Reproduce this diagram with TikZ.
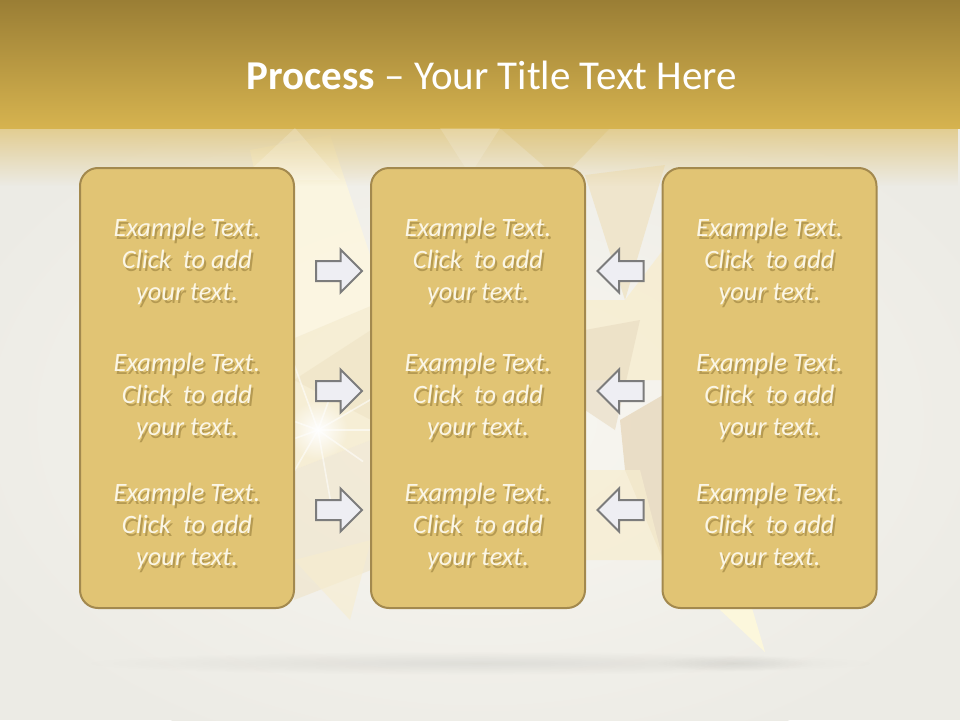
\documentclass[tikz,border=0pt]{standalone}
\usepackage{fontspec}
\setmainfont{Carlito}
\usetikzlibrary{shapes.arrows,fadings}
\tikzfading[name=softedge, inner color=transparent!0, outer color=transparent!100]
\tikzfading[name=fadedown, top color=transparent!0, bottom color=transparent!100]
\definecolor{hdtop}{HTML}{9A7E35}
\definecolor{hdbot}{HTML}{D6B34F}
\definecolor{hdfade}{HTML}{E2CC8E}
\definecolor{bg}{HTML}{ECEBE5}
\definecolor{bglight}{HTML}{F9F7F1}
\definecolor{boxfill}{HTML}{E1C474}
\definecolor{boxline}{HTML}{A3894E}
\definecolor{arrfill}{HTML}{EEEEF3}
\definecolor{arrline}{HTML}{7C7C7C}
\definecolor{txt}{HTML}{FBF6E6}
\definecolor{txtshadow}{HTML}{B59A52}
\definecolor{fa}{HTML}{FCF6E0}
\definecolor{fb}{HTML}{EFE3C5}
\definecolor{fc}{HTML}{E8DAC0}
\definecolor{fd}{HTML}{F7EDCF}
\definecolor{fy}{HTML}{FCF7DC}
\newcommand\shline[1]{\makebox[0pt][l]{\hspace{2pt}\raisebox{-3pt}{\textcolor{txtshadow}{#1}}}#1}
\tikzset{
  panel/.style={draw=boxline, line width=2pt, fill=boxfill, rounded corners=18pt,
    minimum width=214pt, minimum height=440pt, inner sep=0pt},
  ptext/.style={font=\itshape\fontsize{26.5}{32}\selectfont, text=txt, align=center},
  blockarrow/.style={single arrow, draw=arrline, line width=2pt, fill=arrfill,
    minimum height=46pt, minimum width=41pt, inner sep=9pt,
    single arrow head extend=11.5pt}
}
\begin{document}
\begin{tikzpicture}[x=1pt,y=-1pt]
\useasboundingbox (0,0) rectangle (960,720);
% background
\fill[bg] (0,0) rectangle (960,720);
\shade[inner color=bglight, outer color=bg] (480,420) ellipse (560 and 360);
% facets
\fill[fa, opacity=0.9] (250,150) -- (330,135) -- (385,300) -- (290,340) -- cycle;
\fill[fd, opacity=0.8] (290,340) -- (385,300) -- (371,440) -- (294,470) -- cycle;
\fill[fb, opacity=0.6] (294,380) -- (371,330) -- (371,420) -- cycle;
\fill[fb, opacity=0.8] (585,175) -- (665,165) -- (625,300) -- cycle;
\fill[fd, opacity=0.8] (585,300) -- (625,300) -- (663,250) -- (663,380) -- (585,380) -- cycle;
\fill[fc, opacity=0.6] (585,330) -- (640,320) -- (615,430) -- (585,410) -- cycle;
\fill[fc, opacity=0.85] (620,420) -- (663,395) -- (663,560) -- (625,470) -- cycle;
\fill[fd, opacity=0.7] (585,470) -- (640,470) -- (663,560) -- (585,560) -- cycle;
\fill[fy] (718,608) -- (752,608) -- (765,652) -- cycle;
\fill[fb, opacity=0.55] (294,470) -- (371,440) -- (371,570) -- (294,600) -- cycle;
\fill[fd, opacity=0.6] (294,560) -- (371,540) -- (350,620) -- cycle;
% starburst
\fill[white, path fading=softedge] (318,430) circle (30);
\foreach \a/\l in {0/60, 35/55, 80/80, 120/50, 160/70, 200/55, 250/90, 290/50, 330/65}
  \draw[white, line width=1.6pt, opacity=0.55] (318,430) -- ++(\a:\l);
% header
\fill[hdfade, path fading=fadedown] (0,126) rectangle (960,186);
\shade[top color=hdtop, bottom color=hdbot] (0,0) rectangle (960,128);
\fill[white, opacity=0.18] (240,180) -- (295,128) -- (340,180) -- cycle;
\fill[hdbot, opacity=0.18] (500,128) -- (560,180) -- (610,128) -- cycle;
\fill[white, opacity=0.15] (440,128) -- (500,128) -- (470,175) -- cycle;
\node[text=white, font=\fontsize{41}{48}\selectfont] (title) at (492,75)
  {\textbf{Process} -- Your Title Text Here};
% bottom shadow
\fill[black, opacity=0.07, path fading=softedge] (480,663) ellipse (400 and 12);
\fill[black, opacity=0.06, path fading=softedge] (735,663) ellipse (80 and 8);
% panels
\node[panel] (L) at (187,388) {};
\node[panel] (M) at (478,388) {};
\node[panel] (R) at (769.5,388) {};
% texts
\foreach \col/\x in {L/187, M/478, R/769.5}{
  \foreach \row/\y in {1/262.5, 2/397.5, 3/527.5}{
    \node[ptext] (t\col\row) at (\x,\y)
      {\shline{Example Text.}\\\shline{Click\ \ to add}\\\shline{your text.}};
  }
}
% arrows
\node[blockarrow] (a1) at (334,271) {};
\node[blockarrow] (a2) at (334,391) {};
\node[blockarrow] (a3) at (334,510) {};
\node[blockarrow, shape border rotate=180] (b1) at (625.5,271) {};
\node[blockarrow, shape border rotate=180] (b2) at (625.5,391) {};
\node[blockarrow, shape border rotate=180] (b3) at (625.5,510) {};
\end{tikzpicture}
\end{document}
